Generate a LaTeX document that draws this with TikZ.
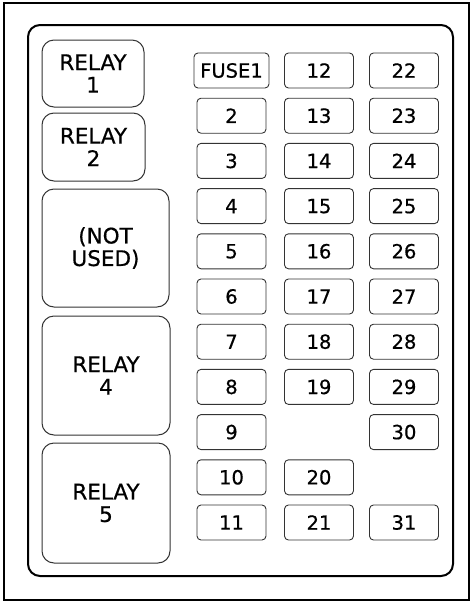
\documentclass[tikz,border=0pt]{standalone}
\usepackage{fontspec}
\setmainfont{DejaVu Sans}[FakeBold=0.6]
\tikzset{
	fusebox/.style={draw=black!80,line width=0.9pt,rounded corners=4pt,minimum width=69pt,minimum height=35pt,inner sep=0pt,font=\fontsize{19.5}{20}\selectfont},
	relaybox/.style={draw=black!80,line width=1pt,rounded corners=12pt,align=center,inner sep=0pt,font=\fontsize{21.5}{22.5}\selectfont}
}
\begin{document}
\begin{tikzpicture}[x=1pt,y=-1pt]
		\useasboundingbox (0,0) rectangle (474,606);
		\draw[line width=2pt] (4,3) rectangle (469,600);
		\draw[line width=2pt,rounded corners=12pt] (28,25) rectangle (453,576);
		% relays
		\node[relaybox,minimum width=102pt,minimum height=67pt] (R1) at (93,73.5) {RELAY\\1};
		\node[relaybox,minimum width=103pt,minimum height=68pt] (R2) at (93.5,147) {RELAY\\2};
		\node[relaybox,minimum width=127pt,minimum height=118pt] (R3) at (105.5,248) {(NOT\\USED)};
		\node[relaybox,minimum width=128pt,minimum height=119pt] (R4) at (106,375.5) {RELAY\\4};
		\node[relaybox,minimum width=128pt,minimum height=120pt] (R5) at (106,503) {RELAY\\5};
		% fuses
		\node[fusebox,minimum width=75pt] (F1) at (231.5,70.5) {FUSE1};
		\foreach \n in {2,...,11}
			\node[fusebox] (F\n) at (231.5,{70.5+45.2*(\n-1)}) {\n};
		\foreach \n/\r in {12/1,13/2,14/3,15/4,16/5,17/6,18/7,19/8,20/10,21/11}
			\node[fusebox] (F\n) at (319,{70.5+45.2*(\r-1)}) {\n};
		\foreach \n/\r in {22/1,23/2,24/3,25/4,26/5,27/6,28/7,29/8,30/9,31/11}
			\node[fusebox] (F\n) at (404,{70.5+45.2*(\r-1)}) {\n};
	\end{tikzpicture}
\end{document}
